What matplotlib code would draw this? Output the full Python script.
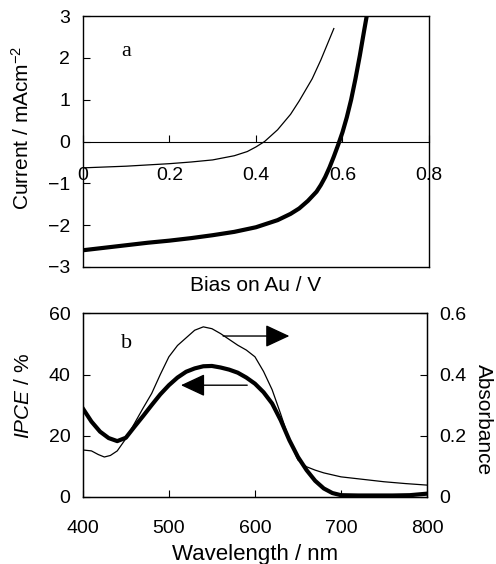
import matplotlib
matplotlib.use("Agg")
import matplotlib.pyplot as plt
import numpy as np

plt.rcParams['font.family'] = ['Liberation Sans', 'DejaVu Sans']
plt.rcParams['mathtext.fontset'] = 'custom'
plt.rcParams['mathtext.rm'] = 'Liberation Sans'
plt.rcParams['mathtext.it'] = 'Liberation Sans:italic'

# ---- Panel a: J-V curves ----
bias_thin = [0.0, 0.05, 0.1, 0.15, 0.2, 0.25, 0.3, 0.35, 0.38, 0.4, 0.42, 0.45, 0.48, 0.5, 0.53, 0.55, 0.58]
current_thin = [-0.63, -0.61, -0.59, -0.56, -0.53, -0.49, -0.44, -0.34, -0.24, -0.13, 0.0, 0.28, 0.65, 0.97, 1.5, 1.95, 2.7]

bias_thick = [0.0, 0.05, 0.1, 0.15, 0.2, 0.25, 0.3, 0.35, 0.4, 0.45, 0.48, 0.5, 0.52, 0.54, 0.55, 0.56, 0.57, 0.58, 0.59, 0.6, 0.61, 0.62, 0.63, 0.64, 0.65, 0.656]
current_thick = [-2.6, -2.54, -2.48, -2.42, -2.37, -2.31, -2.24, -2.16, -2.05, -1.88, -1.73, -1.6, -1.42, -1.2, -1.04, -0.85, -0.62, -0.36, -0.08, 0.22, 0.58, 1.0, 1.5, 2.05, 2.65, 3.0]

xticks_a = [0, 0.2, 0.4, 0.6, 0.8]
xticklabels_a = ['0', '0.2', '0.4', '0.6', '0.8']
yticks_a = [-3, -2, -1, 0, 1, 2, 3]
yticklabels_a = ['\u22123', '\u22122', '\u22121', '0', '1', '2', '3']

# ---- Panel b: IPCE and absorbance ----
wl_ipce = [400, 410, 420, 430, 440, 450, 460, 470, 480, 490, 500, 510, 520, 530, 540, 550, 560, 570, 580, 590, 600, 610, 620, 630, 640, 650, 660, 670, 680, 690, 700, 720, 740, 760, 780, 800]
ipce = [28.9, 24.6, 21.3, 19.2, 18.2, 19.3, 22.9, 26.4, 30.0, 33.5, 36.5, 39.0, 40.9, 42.0, 42.7, 42.8, 42.3, 41.6, 40.6, 39.0, 37.0, 34.2, 30.5, 25.0, 18.5, 13.0, 8.7, 5.2, 2.7, 1.2, 0.5, 0.4, 0.4, 0.4, 0.5, 1.0]

wl_abs = [400, 410, 418, 425, 432, 440, 450, 460, 470, 480, 490, 500, 510, 520, 530, 540, 550, 560, 570, 580, 590, 600, 610, 620, 630, 640, 650, 660, 670, 680, 700, 725, 750, 775, 800]
absorb = [0.153, 0.15, 0.138, 0.13, 0.135, 0.150, 0.19, 0.24, 0.29, 0.338, 0.40, 0.458, 0.495, 0.52, 0.545, 0.556, 0.55, 0.534, 0.515, 0.496, 0.48, 0.458, 0.41, 0.35, 0.27, 0.185, 0.12, 0.098, 0.087, 0.078, 0.065, 0.057, 0.049, 0.043, 0.038]

xticks_b = [400, 500, 600, 700, 800]
yticks_b = [0, 20, 40, 60]
yticks_b2 = [0, 0.2, 0.4, 0.6]
yticklabels_b2 = ['0', '0.2', '0.4', '0.6']

TICK_FS = 14
LABEL_FS = 15

fig = plt.figure(figsize=(4.96, 5.64), dpi=100)

# ---------- Panel a ----------
ax1 = fig.add_axes([0.167, 0.5266, 0.698, 0.445])
ax1.plot(bias_thin, current_thin, color='black', lw=0.9)
ax1.plot(bias_thick, current_thick, color='black', lw=3.0, solid_capstyle='butt')
ax1.set_xlim(0, 0.8)
ax1.set_ylim(-3, 3)
ax1.spines['bottom'].set_position(('data', 0))
ax1.spines['bottom'].set_linewidth(0.8)
for s in ['top', 'left', 'right']:
    ax1.spines[s].set_linewidth(1.0)
# box bottom frame line
ax1.plot([0, 1], [0, 0], transform=ax1.transAxes, color='black', lw=1.0, clip_on=False)
ax1.set_xticks(xticks_a)
ax1.set_xticklabels(xticklabels_a)
ax1.set_yticks(yticks_a)
ax1.set_yticklabels(yticklabels_a)
ax1.tick_params(axis='x', direction='in', length=5, width=0.8, labelsize=TICK_FS, pad=18)
ax1.tick_params(axis='y', direction='in', length=5, width=0.8, labelsize=TICK_FS, pad=9)
ax1.set_ylabel('Current / mAcm$^{-2}$', fontsize=LABEL_FS)
ax1.yaxis.set_label_coords(-0.145, 0.554)
ax1.set_xlabel('Bias on Au / V', fontsize=LABEL_FS)
ax1.xaxis.set_label_coords(0.5, -0.035)
ax1.text(0.1, 2.15, 'a', fontsize=16, family='Liberation Serif', ha='center', va='center')

# ---------- Panel b ----------
ax2 = fig.add_axes([0.167, 0.1193, 0.694, 0.325])
ax2.plot(wl_ipce, ipce, color='black', lw=3.0)
ax2.set_xlim(400, 800)
ax2.set_ylim(0, 60)
ax2.set_xticks(xticks_b)
ax2.set_yticks(yticks_b)
ax2.tick_params(axis='x', direction='in', length=5, width=0.8, labelsize=TICK_FS, pad=17)
ax2.tick_params(axis='y', direction='in', length=5, width=0.8, labelsize=TICK_FS, pad=9)
ax2.set_ylabel('$IPCE$ / %', fontsize=LABEL_FS)
ax2.yaxis.set_label_coords(-0.145, 0.55)
ax2.set_xlabel('Wavelength / nm', fontsize=16, labelpad=5)
for s in ax2.spines.values():
    s.set_linewidth(1.0)

ax3 = ax2.twinx()
ax3.plot(wl_abs, absorb, color='black', lw=0.9)
ax3.set_ylim(0, 0.6)
ax3.set_yticks(yticks_b2)
ax3.set_yticklabels(yticklabels_b2)
ax3.tick_params(direction='in', length=5, width=0.8, labelsize=TICK_FS, pad=9)
ax3.set_ylabel('Absorbance', fontsize=LABEL_FS, rotation=270, va='bottom')
ax3.yaxis.set_label_coords(1.135, 0.42)

# arrows
ax2.annotate('', xy=(640, 52.6), xytext=(563, 52.6),
             arrowprops=dict(arrowstyle='-|>,head_length=1.5,head_width=0.7', mutation_scale=10,
                             color='black', lw=1.0, shrinkA=0, shrinkB=0))
ax2.annotate('', xy=(514, 36.5), xytext=(591, 36.5),
             arrowprops=dict(arrowstyle='-|>,head_length=1.5,head_width=0.7', mutation_scale=10,
                             color='black', lw=1.0, shrinkA=0, shrinkB=0))
ax2.text(451, 50, 'b', fontsize=16, family='Liberation Serif', ha='center', va='center')

fig.savefig('out.png', dpi=100)
